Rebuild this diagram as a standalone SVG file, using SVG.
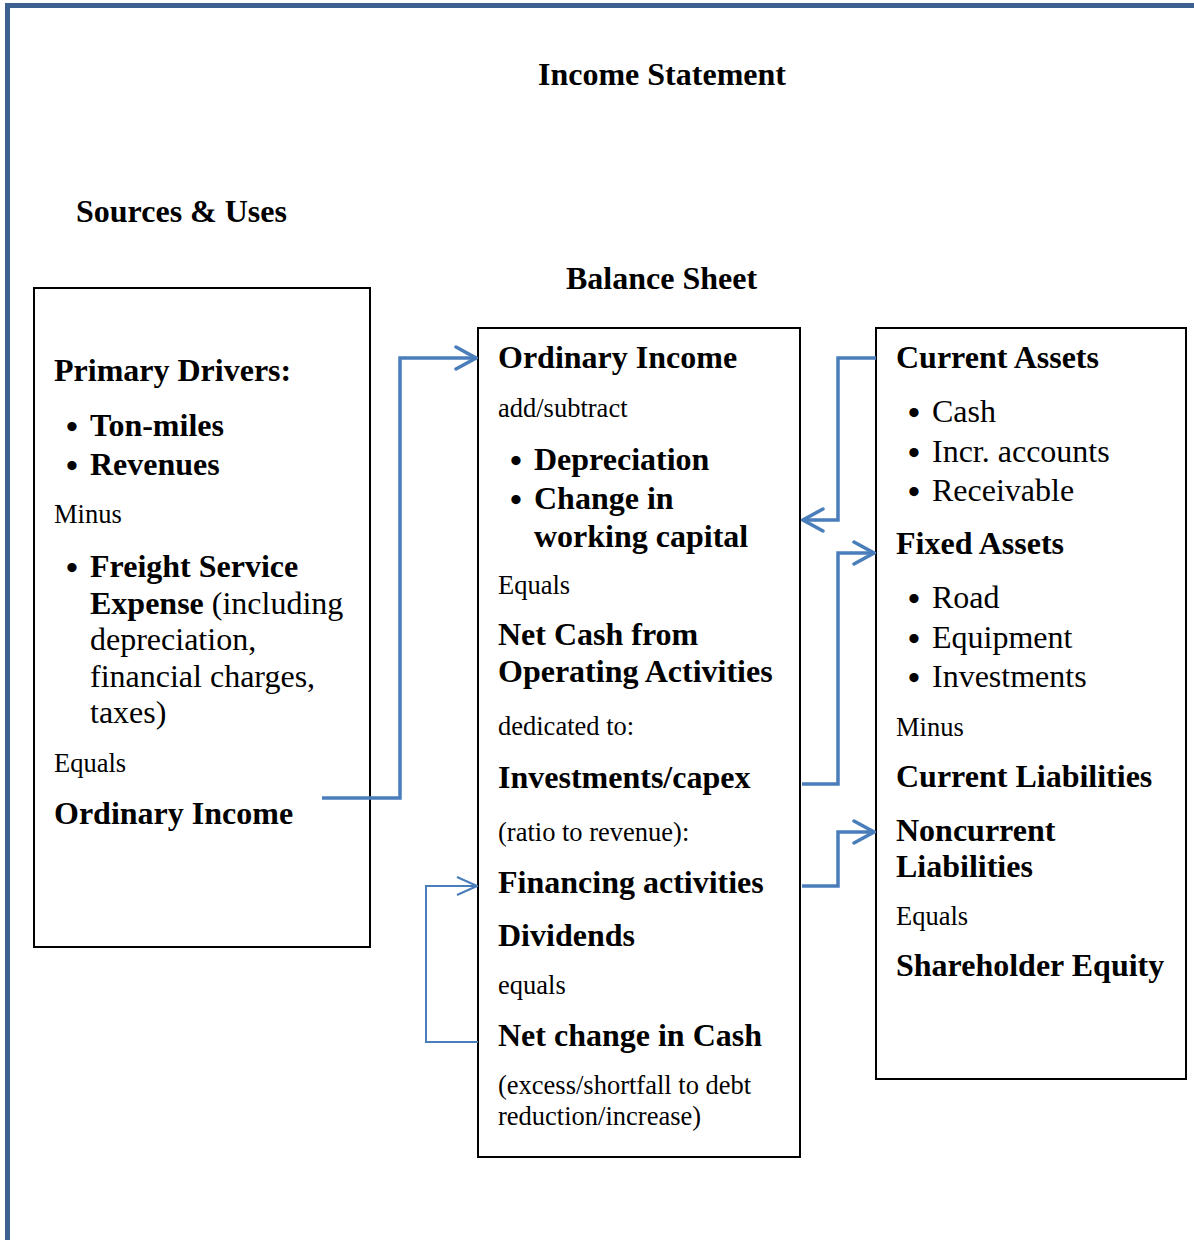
<svg xmlns="http://www.w3.org/2000/svg" width="1194" height="1240" viewBox="0 0 1194 1240">
<style>
text{font-family:"Liberation Serif","Times New Roman",serif;fill:#000}
.b{font-weight:bold;font-size:32px}
.r{font-size:32px}
.s{font-size:26.5px}
.bu{font-size:34px;font-weight:bold}
.box{fill:#fff;stroke:#000;stroke-width:2}
.c{fill:none;stroke:#4A7EBB;stroke-width:3.5}
.ct{fill:none;stroke:#4A7EBB;stroke-width:2}
</style>
<defs>
<marker id="aht" viewBox="0 0 22 20" refX="21" refY="10" markerWidth="22" markerHeight="20" markerUnits="userSpaceOnUse" orient="auto">
<path d="M1,1 L21,10 L1,19" fill="none" stroke="#4A7EBB" stroke-width="2"/>
</marker>
<marker id="ahb" viewBox="0 0 24 26" refX="22" refY="13" markerWidth="24" markerHeight="26" markerUnits="userSpaceOnUse" orient="auto">
<path d="M2,2 L22,13 L2,24" fill="none" stroke="#4A7EBB" stroke-width="3.5" stroke-linecap="round"/>
</marker>
</defs>
<rect width="1194" height="1240" fill="#fff"/>
<g id="frame">
<path d="M7.5,1240 L7.5,5.5 L1194,5.5" fill="none" stroke="#3C6190" stroke-width="5"/>
</g>
<g id="titles">
<text class="b" x="538" y="85">Income Statement</text>
<text class="b" x="76" y="222">Sources &amp; Uses</text>
<text class="b" x="566" y="289">Balance Sheet</text>
</g>
<g id="sources-uses">
<rect class="box" x="34" y="288" width="336" height="659"/>
<text class="b" x="54" y="381">Primary Drivers:</text>
<text class="bu" x="66" y="438">•</text><text class="b" x="90" y="436">Ton-miles</text>
<text class="bu" x="66" y="477">•</text><text class="b" x="90" y="475">Revenues</text>
<text class="s" x="54" y="523">Minus</text>
<text class="bu" x="66" y="579">•</text><text class="b" x="90" y="577">Freight Service</text>
<text class="r" x="90" y="614"><tspan font-weight="bold">Expense</tspan> (including</text>
<text class="r" x="90" y="650">depreciation,</text>
<text class="r" x="90" y="687">financial charges,</text>
<text class="r" x="90" y="723">taxes)</text>
<text class="s" x="54" y="772">Equals</text>
<text class="b" x="54" y="824">Ordinary Income</text>
</g>
<g id="cash-flow">
<rect class="box" x="478" y="328" width="322" height="829"/>
<text class="b" x="498" y="368">Ordinary Income</text>
<text class="s" x="498" y="417">add/subtract</text>
<text class="bu" x="510" y="472">•</text><text class="b" x="534" y="470">Depreciation</text>
<text class="bu" x="510" y="511">•</text><text class="b" x="534" y="509">Change in</text>
<text class="b" x="534" y="547">working capital</text>
<text class="s" x="498" y="594">Equals</text>
<text class="b" x="498" y="645">Net Cash from</text>
<text class="b" x="498" y="682">Operating Activities</text>
<text class="s" x="498" y="735">dedicated to:</text>
<text class="b" x="498" y="788">Investments/capex</text>
<text class="s" x="498" y="841">(ratio to revenue):</text>
<text class="b" x="498" y="893">Financing activities</text>
<text class="b" x="498" y="946">Dividends</text>
<text class="s" x="498" y="994">equals</text>
<text class="b" x="498" y="1046">Net change in Cash</text>
<text class="s" x="498" y="1094">(excess/shortfall to debt</text>
<text class="s" x="498" y="1125">reduction/increase)</text>
</g>
<g id="balance-sheet">
<rect class="box" x="876" y="328" width="310" height="751"/>
<text class="b" x="896" y="368">Current Assets</text>
<text class="bu" x="908" y="424">•</text><text class="r" x="932" y="422">Cash</text>
<text class="bu" x="908" y="464">•</text><text class="r" x="932" y="462">Incr. accounts</text>
<text class="bu" x="908" y="503">•</text><text class="r" x="932" y="501">Receivable</text>
<text class="b" x="896" y="554">Fixed Assets</text>
<text class="bu" x="908" y="610">•</text><text class="r" x="932" y="608">Road</text>
<text class="bu" x="908" y="650">•</text><text class="r" x="932" y="648">Equipment</text>
<text class="bu" x="908" y="689">•</text><text class="r" x="932" y="687">Investments</text>
<text class="s" x="896" y="736">Minus</text>
<text class="b" x="896" y="787">Current Liabilities</text>
<text class="b" x="896" y="841">Noncurrent</text>
<text class="b" x="896" y="877">Liabilities</text>
<text class="s" x="896" y="925">Equals</text>
<text class="b" x="896" y="976">Shareholder Equity</text>
</g>
<g id="connectors">
<path class="c" d="M322,798 L400,798 L400,358 L476,358" marker-end="url(#ahb)"/>
<path class="c" d="M876,358 L838,358 L838,520 L803,520" marker-end="url(#ahb)"/>
<path class="c" d="M802,784 L838,784 L838,553 L874,553" marker-end="url(#ahb)"/>
<path class="c" d="M802,886 L838,886 L838,832 L874,832" marker-end="url(#ahb)"/>
<path class="ct" d="M478,1042 L426,1042 L426,886 L477,886" marker-end="url(#aht)"/>
</g>
</svg>
